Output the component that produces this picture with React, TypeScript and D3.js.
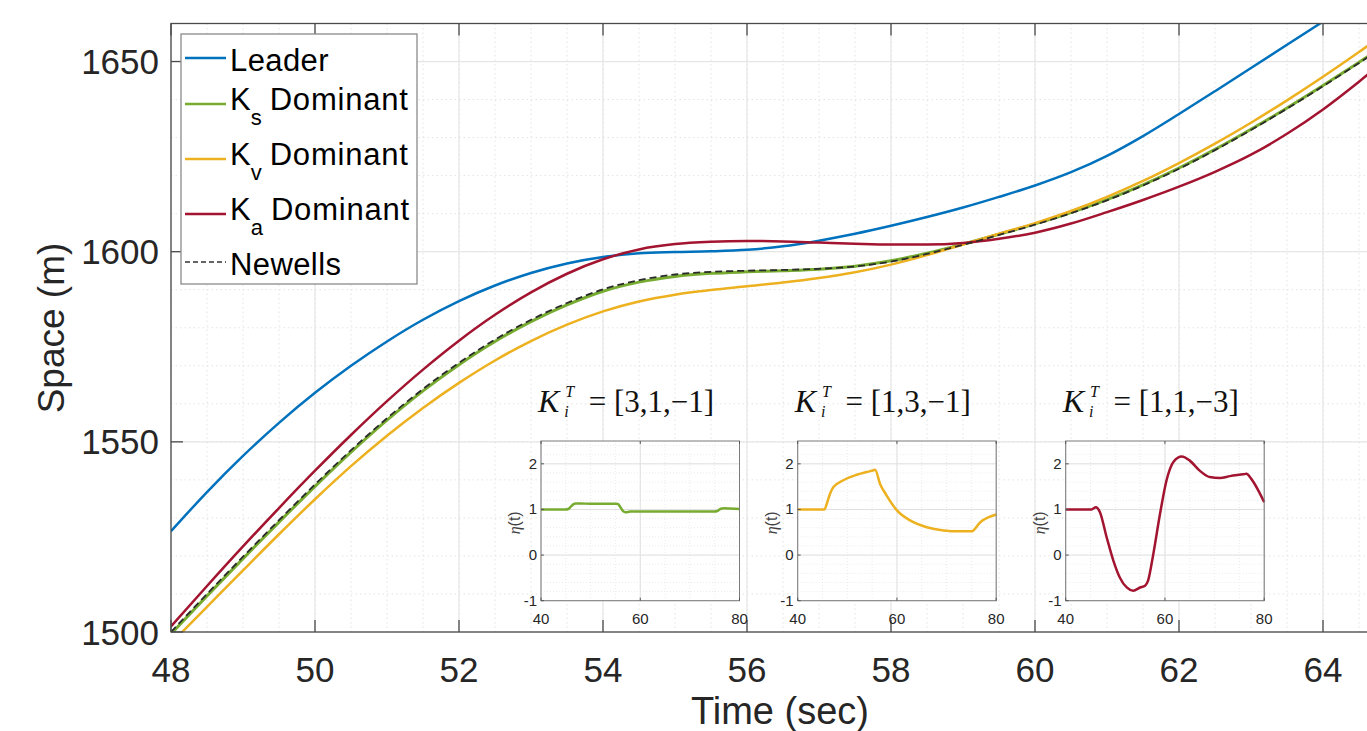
import React from 'react';
import * as d3 from 'd3';

// main plot: position of each vehicle vs time
const time = [48, 48.5, 49, 49.5, 50, 50.5, 51, 51.5, 52, 52.5, 53, 53.5, 54, 54.5, 55, 55.5, 56, 56.5, 57, 57.5, 58, 58.5, 59, 59.5, 60, 60.5, 61, 61.5, 62, 62.5, 63, 63.5, 64, 64.5, 65];
const leader = [1526.5, 1536.8, 1546.3, 1555.0, 1562.9, 1570.0, 1576.4, 1582.1, 1587.0, 1591.1, 1594.4, 1596.9, 1598.6, 1599.6, 1599.9, 1600.1, 1600.5, 1601.4, 1602.9, 1604.7, 1606.8, 1609.1, 1611.6, 1614.4, 1617.4, 1620.9, 1625.2, 1630.4, 1636.2, 1642.2, 1648.3, 1654.4, 1660.5, 1666.6, 1672.7];
const ksDominant = [1499.5, 1509.5, 1519.3, 1528.9, 1538.3, 1547.3, 1555.7, 1563.4, 1570.3, 1576.4, 1581.6, 1586.0, 1589.6, 1592.0, 1593.5, 1594.3, 1594.7, 1595.0, 1595.4, 1596.2, 1597.6, 1599.6, 1602.0, 1604.6, 1607.3, 1610.3, 1613.7, 1617.6, 1622.0, 1626.9, 1632.2, 1637.8, 1643.7, 1649.8, 1656.0];
const kvDominant = [1497.0, 1506.6, 1516.2, 1525.7, 1534.9, 1543.6, 1551.6, 1558.9, 1565.5, 1571.4, 1576.5, 1580.8, 1584.3, 1586.9, 1588.7, 1589.9, 1590.9, 1591.9, 1593.1, 1594.6, 1596.6, 1599.1, 1601.9, 1604.7, 1607.5, 1610.7, 1614.4, 1618.6, 1623.3, 1628.4, 1633.9, 1639.8, 1646.0, 1652.5, 1659.3];
const kaDominant = [1501.5, 1512.1, 1522.5, 1532.6, 1542.4, 1551.8, 1560.7, 1569.0, 1576.6, 1583.4, 1589.3, 1594.2, 1598.0, 1600.6, 1602.0, 1602.6, 1602.8, 1602.7, 1602.4, 1602.1, 1601.9, 1601.9, 1602.3, 1603.4, 1605.0, 1607.4, 1610.4, 1613.6, 1617.1, 1621.0, 1625.5, 1631.0, 1637.4, 1644.7, 1652.5];
const newells = [1500.0, 1510.0, 1519.8, 1529.4, 1538.8, 1547.8, 1556.2, 1563.9, 1570.8, 1576.9, 1582.1, 1586.5, 1590.1, 1592.5, 1594.0, 1594.7, 1595.0, 1595.2, 1595.5, 1596.1, 1597.4, 1599.4, 1601.8, 1604.4, 1607.1, 1610.1, 1613.5, 1617.4, 1621.8, 1626.7, 1632.0, 1637.6, 1643.5, 1649.6, 1655.8];

const xTicks = [48, 50, 52, 54, 56, 58, 60, 62, 64];
const yTicks = [1500, 1550, 1600, 1650];

// insets: eta(t)
const etaKsTime = [40, 45, 45.5, 46, 46.5, 47, 48, 50, 52, 54, 55, 55.5, 56, 56.5, 57, 57.5, 58, 60, 65, 70, 75, 75.5, 76, 76.5, 77, 78, 80];
const etaKs = [1, 1, 1.01, 1.06, 1.11, 1.13, 1.13, 1.125, 1.125, 1.125, 1.125, 1.12, 1.05, 0.97, 0.94, 0.945, 0.955, 0.955, 0.955, 0.955, 0.955, 0.965, 1.0, 1.02, 1.025, 1.02, 1.01];
const etaKvTime = [40, 45, 45.4, 45.85, 46.5, 47.2, 49.2, 51.9, 53.9, 55.3, 55.6, 56.6, 57.9, 60, 62.65, 66, 69.4, 72.7, 75.1, 75.4, 76.8, 78.5, 80];
const etaKv = [1, 1, 1, 1.12, 1.34, 1.49, 1.64, 1.76, 1.82, 1.86, 1.87, 1.56, 1.31, 0.98, 0.76, 0.61, 0.54, 0.52, 0.52, 0.54, 0.72, 0.83, 0.89];
const etaKaTime = [40, 45, 45.2, 46.1, 46.9, 48.25, 49.6, 50.9, 52.3, 53.6, 55, 56, 56.6, 57.65, 59, 60.3, 61.7, 63.4, 65, 67, 69, 71.1, 73.1, 75.8, 76.4, 77.4, 78.8, 80];
const etaKa = [1, 1, 1, 1.05, 0.94, 0.39, -0.12, -0.49, -0.71, -0.78, -0.71, -0.67, -0.56, 0.02, 0.9, 1.63, 2.04, 2.16, 2.07, 1.85, 1.71, 1.69, 1.73, 1.77, 1.78, 1.67, 1.42, 1.16];
const insetGains = ['[3,1,−1]', '[1,3,−1]', '[1,1,−3]'];
const insetXTicks = [40, 60, 80];
const insetYTicks = [-1, 0, 1, 2];

const BLUE = '#0072BD';
const GREEN = '#77AC30';
const YELLOW = '#EDB120';
const RED = '#A2142F';
const SANS = '"Liberation Sans", Arial, Helvetica, sans-serif';
const SERIF = '"Liberation Serif", "Times New Roman", serif';

const W = 1367, H = 731;
const plot = { left: 171, top: 23.5, right: 1395, bottom: 632 };

const x = d3.scaleLinear().domain([48, 65]).range([plot.left, plot.right]);
const y = d3.scaleLinear().domain([1500, 1660]).range([plot.bottom, plot.top]);

const mainLine = d3.line<number>()
  .x((_, i) => x(time[i]))
  .y(d => y(d))
  .curve(d3.curveMonotoneX);

const Inset = ({ left, t, eta, color, gain }) => {
  const top = 441, bottom = 600.7, width = 198.5;
  const ix = d3.scaleLinear().domain([40, 80]).range([left, left + width]);
  const iy = d3.scaleLinear().domain([-1, 2.5]).range([bottom, top]);
  const line = d3.line<number>()
    .x((_, i) => ix(t[i]))
    .y(d => iy(d))
    .curve(d3.curveMonotoneX);
  const minorX = d3.range(45, 80, 5);
  const minorY = d3.range(-0.8, 2.5, 0.2);
  return (
    <g>
      {/* title: K_i^T = [...] */}
      <text x={left - 3} y={412} fontFamily={SERIF} fontSize={31} fill="#111">
        <tspan fontStyle="italic" fontSize={32}>K</tspan>
        <tspan fontStyle="italic" fontSize={16} dx={6} dy={-15}>T</tspan>
        <tspan fontStyle="italic" fontSize={16} dx={-9} dy={20}>i</tspan>
        <tspan dx={20} dy={-5}>= {gain}</tspan>
      </text>

      <rect x={left} y={top} width={width} height={bottom - top} fill="#fff" />
      {minorX.map(v => (
        <line key={'mx' + v} x1={ix(v)} x2={ix(v)} y1={top} y2={bottom} stroke="#e6e6e6" strokeWidth={0.8} strokeDasharray="1 2" />
      ))}
      {minorY.map(v => (
        <line key={'my' + v} x1={left} x2={left + width} y1={iy(v)} y2={iy(v)} stroke="#e6e6e6" strokeWidth={0.8} strokeDasharray="1 2" />
      ))}
      {insetXTicks.map(v => (
        <line key={'gx' + v} x1={ix(v)} x2={ix(v)} y1={top} y2={bottom} stroke="#e0e0e0" strokeWidth={1} />
      ))}
      {insetYTicks.map(v => (
        <line key={'gy' + v} x1={left} x2={left + width} y1={iy(v)} y2={iy(v)} stroke="#e0e0e0" strokeWidth={1} />
      ))}
      <path d={line(eta) || ''} fill="none" stroke={color} strokeWidth={2.5} />
      <rect x={left} y={top} width={width} height={bottom - top} fill="none" stroke="#7a7a7a" strokeWidth={1} />
      {insetXTicks.map(v => (
        <g key={'tx' + v}>
          <line x1={ix(v)} x2={ix(v)} y1={bottom} y2={bottom - 3} stroke="#555" />
          <line x1={ix(v)} x2={ix(v)} y1={top} y2={top + 3} stroke="#555" />
          <text x={ix(v)} y={624} textAnchor="middle" fontFamily={SANS} fontSize={15} fill="#262626">{v}</text>
        </g>
      ))}
      {insetYTicks.map(v => (
        <g key={'ty' + v}>
          <line x1={left} x2={left + 3} y1={iy(v)} y2={iy(v)} stroke="#555" />
          <text x={left - 4} y={iy(v) + 5} textAnchor="end" fontFamily={SANS} fontSize={15} fill="#262626">{v}</text>
        </g>
      ))}
      <text transform={`translate(${left - 21},${(top + bottom) / 2 + 2}) rotate(-90)`} textAnchor="middle" fontFamily={SANS} fontSize={16} fill="#404040">
        <tspan fontStyle="italic" fontFamily={SERIF}>η</tspan>(t)
      </text>
    </g>
  );
};

const legendItems = [
  { main: 'Leader', sub: '', color: BLUE, dash: '' },
  { main: 'K', sub: 's', color: GREEN, dash: '' },
  { main: 'K', sub: 'v', color: YELLOW, dash: '' },
  { main: 'K', sub: 'a', color: RED, dash: '' },
  { main: 'Newells', sub: '', color: '#333', dash: '5 3' },
];

const Legend = () => {
  const rowY = [58, 104, 159, 214, 262];
  return (
    <g>
      <rect x={181} y={34} width={236} height={250} fill="#fff" stroke="#8a8a8a" strokeWidth={1.3} />
      {legendItems.map((it, i) => (
        <g key={i}>
          <line x1={185} x2={226} y1={rowY[i]} y2={rowY[i]} stroke={it.color} strokeWidth={it.dash ? 1.6 : 2.5} strokeDasharray={it.dash} />
          {it.sub ? (
            <text x={230} y={rowY[i] + 6} fontFamily={SANS} fontSize={31} fill="#000">
              K<tspan fontSize={22} dy={15}>{it.sub}</tspan>
              <tspan dy={-15} dx={8} letterSpacing={0.8}>Dominant</tspan>
            </text>
          ) : (
            <text x={230} y={rowY[i] + 12.5} fontFamily={SANS} fontSize={31} letterSpacing={0.4} fill="#000">{it.main}</text>
          )}
        </g>
      ))}
    </g>
  );
};

export default function App() {
  const minorXs = d3.range(48, 65.01, 0.5);
  const minorYs = d3.range(1500, 1661, 10);
  return (
    <svg width={W} height={H} style={{ position: 'absolute', left: 0, top: 0 }}>
      <defs>
        <clipPath id="plotClip">
          <rect x={plot.left} y={plot.top} width={plot.right - plot.left} height={plot.bottom - plot.top} />
        </clipPath>
      </defs>
      <rect width={W} height={H} fill="#fff" />

      {/* grid */}
      {minorXs.map(v => (
        <line key={'mx' + v} x1={x(v)} x2={x(v)} y1={plot.top} y2={plot.bottom} stroke="#e3e3e3" strokeWidth={1} strokeDasharray="1.5 3" />
      ))}
      {minorYs.map(v => (
        <line key={'my' + v} x1={plot.left} x2={plot.right} y1={y(v)} y2={y(v)} stroke="#e3e3e3" strokeWidth={1} strokeDasharray="1.5 3" />
      ))}
      {xTicks.map(v => (
        <line key={'gx' + v} x1={x(v)} x2={x(v)} y1={plot.top} y2={plot.bottom} stroke="#e6e6e6" strokeWidth={1.2} />
      ))}
      {yTicks.map(v => (
        <line key={'gy' + v} x1={plot.left} x2={plot.right} y1={y(v)} y2={y(v)} stroke="#e6e6e6" strokeWidth={1.2} />
      ))}

      {/* series */}
      <g clipPath="url(#plotClip)">
        <path d={mainLine(leader) || ''} fill="none" stroke={BLUE} strokeWidth={2.5} />
        <path d={mainLine(ksDominant) || ''} fill="none" stroke={GREEN} strokeWidth={3} />
        <path d={mainLine(kvDominant) || ''} fill="none" stroke={YELLOW} strokeWidth={2.5} />
        <path d={mainLine(kaDominant) || ''} fill="none" stroke={RED} strokeWidth={2.5} />
        <path d={mainLine(newells) || ''} fill="none" stroke="#2b2b2b" strokeWidth={1.8} strokeDasharray="7 4" />
      </g>

      {/* axes box and ticks */}
      <rect x={plot.left} y={plot.top} width={plot.right - plot.left} height={plot.bottom - plot.top} fill="none" stroke="#4a4a4a" strokeWidth={1.3} />
      {xTicks.map(v => (
        <g key={'xt' + v}>
          <line x1={x(v)} x2={x(v)} y1={plot.bottom} y2={plot.bottom - 12} stroke="#4a4a4a" strokeWidth={1.3} />
          <line x1={x(v)} x2={x(v)} y1={plot.top} y2={plot.top + 12} stroke="#4a4a4a" strokeWidth={1.3} />
          <text x={x(v)} y={682} textAnchor="middle" fontFamily={SANS} fontSize={35} fill="#262626">{v}</text>
        </g>
      ))}
      {yTicks.map(v => (
        <g key={'yt' + v}>
          <line x1={plot.left} x2={plot.left + 12} y1={y(v)} y2={y(v)} stroke="#4a4a4a" strokeWidth={1.3} />
          <text x={159} y={y(v) + 12.5} textAnchor="end" fontFamily={SANS} fontSize={35} fill="#262626">{v}</text>
        </g>
      ))}
      <text x={780} y={724} textAnchor="middle" fontFamily={SANS} fontSize={38} fill="#262626">Time (sec)</text>
      <text transform={`translate(64,328) rotate(-90)`} textAnchor="middle" fontFamily={SANS} fontSize={37} fill="#262626">Space (m)</text>

      <Legend />

      <Inset left={541} t={etaKsTime} eta={etaKs} color={GREEN} gain={insetGains[0]} />
      <Inset left={797.7} t={etaKvTime} eta={etaKv} color={YELLOW} gain={insetGains[1]} />
      <Inset left={1065.7} t={etaKaTime} eta={etaKa} color={RED} gain={insetGains[2]} />
    </svg>
  );
}
